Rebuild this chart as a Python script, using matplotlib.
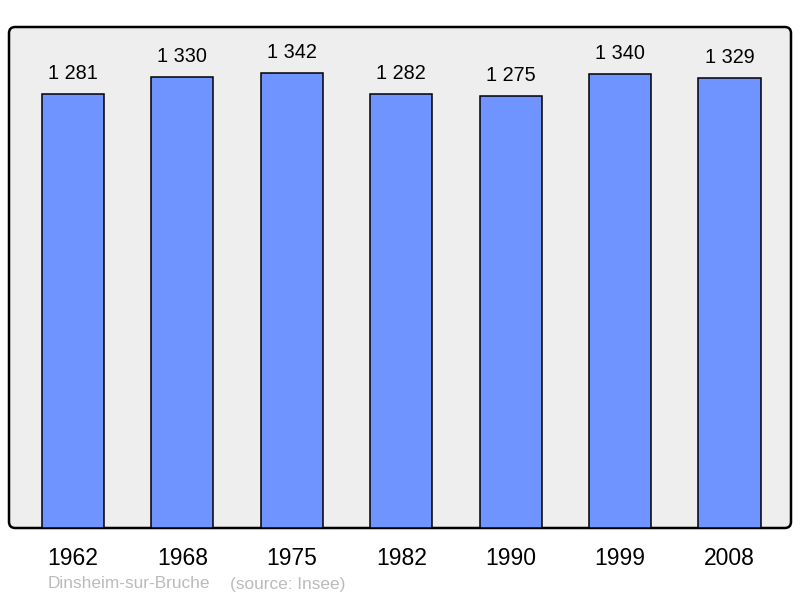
import matplotlib
matplotlib.use("Agg")
import matplotlib.pyplot as plt
from matplotlib.patches import FancyBboxPatch

annees = ["1962", "1968", "1975", "1982", "1990", "1999", "2008"]
population = [1281, 1330, 1342, 1282, 1275, 1340, 1329]
etiquettes = ["1 281", "1 330", "1 342", "1 282", "1 275", "1 340", "1 329"]

plt.rcParams['font.family'] = ['Liberation Sans', 'DejaVu Sans']

fig = plt.figure(figsize=(8, 5.98), dpi=100)
ax = fig.add_axes([9 / 800, 1 - 528 / 598, 782 / 800, 501 / 598])

# fond gris avec bord arrondi
cadre = FancyBboxPatch((0, 0), 1, 1, boxstyle="round,pad=0,rounding_size=0.008",
                       mutation_aspect=782 / 501, transform=ax.transAxes,
                       facecolor="#eeeeee", edgecolor="black", linewidth=1.8,
                       clip_on=False, zorder=0)
ax.add_patch(cadre)
ax.set_facecolor("none")
for s in ax.spines.values():
    s.set_visible(False)

x = list(range(len(annees)))
ax.bar(x, population, width=0.567, color="#7094ff", edgecolor="black",
       linewidth=1.1, zorder=2)

for xi, v, lab in zip(x, population, etiquettes):
    ax.annotate(lab, (xi, v), xytext=(0, 8), textcoords="offset points",
                ha="center", va="bottom", fontsize=14.3, color="black")

ax.set_xlim(-0.585, 6.562)
ax.set_ylim(0, 1479)
ax.set_yticks([])
ax.set_xticks(x)
ax.set_xticklabels(annees, fontsize=16.5)
ax.tick_params(axis="x", length=0, pad=14)

fig.text(48 / 800, 1 - 584 / 598, "Dinsheim-sur-Bruche", fontsize=12.4,
         color="#bbbbbb", va="center", ha="left")
fig.text(230 / 800, 1 - 584 / 598, "(source: Insee)", fontsize=12.4,
         color="#bbbbbb", va="center", ha="left")

fig.savefig("out.png", dpi=100)
